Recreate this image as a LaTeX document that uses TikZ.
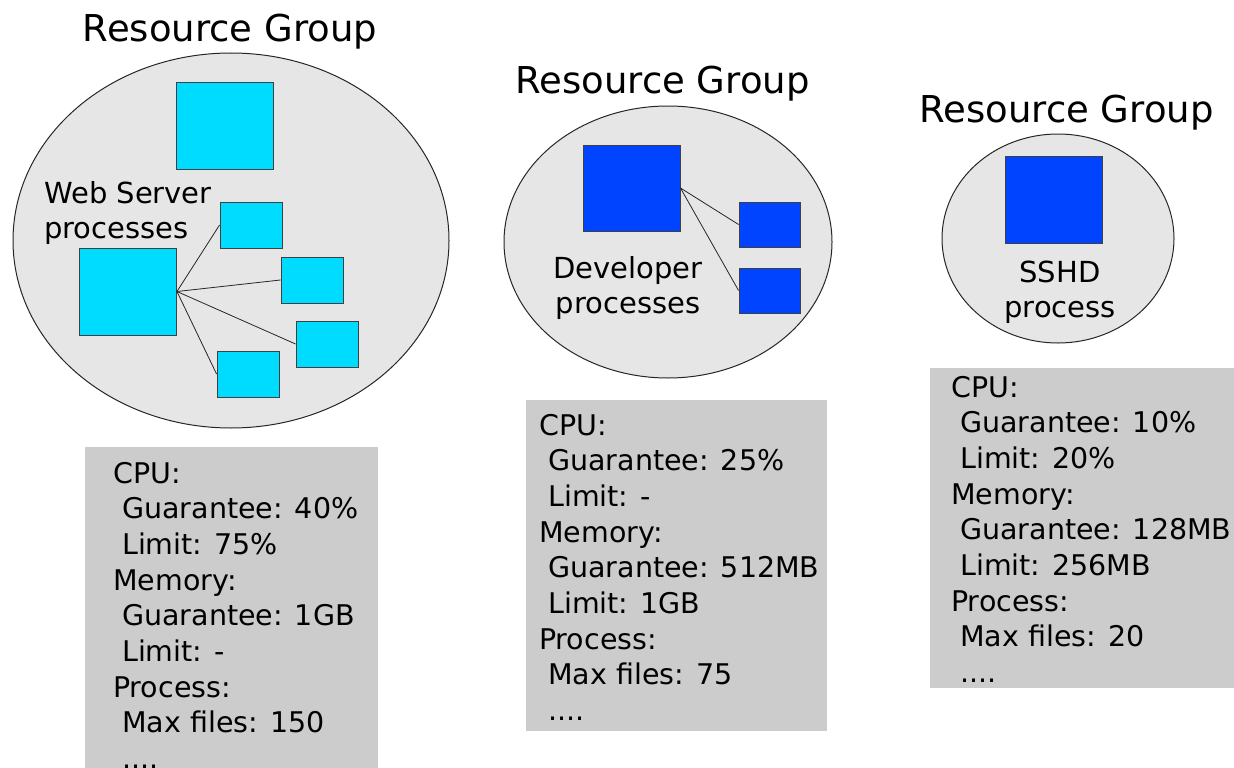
\documentclass[tikz,border=0pt]{standalone}
\usepackage{fontspec}
\setmainfont{DejaVu Sans}
\definecolor{grpfill}{HTML}{E6E6E6}
\definecolor{panelfill}{HTML}{CCCCCC}
\definecolor{webcyan}{HTML}{00DCFF}
\definecolor{devblue}{HTML}{0044FF}
\begin{document}
\begin{tikzpicture}[x=1pt,y=-1pt,
  group/.style={draw=black!85,line width=1pt,fill=grpfill},
  title/.style={anchor=base,inner sep=0pt,font=\fontsize{37}{44}\selectfont},
  label/.style={inner sep=0pt,font=\fontsize{29}{35}\selectfont},
  panel/.style={rectangle,fill=panelfill,inner sep=0pt,anchor=north west},
  ptext/.style={anchor=base west,inner sep=0pt,align=left,font=\fontsize{28.5}{35.7}\selectfont},
  bigbox/.style={rectangle,draw=black!75,line width=0.9pt,inner sep=0pt,minimum width=97pt,minimum height=87pt},
  smallbox/.style={rectangle,draw=black!75,line width=0.9pt,inner sep=0pt,minimum width=62pt,minimum height=46pt},
  link/.style={draw=black!85,line width=0.8pt}
]
\useasboundingbox (0,0) rectangle (1234,768);
\clip (0,0) rectangle (1234,768);

% titles
\node[title] (t1) at (230,42) {Resource Group};
\node[title] (t2) at (662.5,93) {Resource Group};
\node[title] (t3) at (1066.5,122) {Resource Group};

% groups
\draw[group] (231,240.5) ellipse [x radius=218pt, y radius=187.5pt];
\draw[group] (668,242) ellipse [x radius=164pt, y radius=136pt];
\draw[group] (1058,238.5) ellipse [x radius=116pt, y radius=104.5pt];

% web server group
\node[bigbox,fill=webcyan] (w0) at (225,125.5) {};
\node[bigbox,fill=webcyan] (wbig) at (128,291.5) {};
\node[smallbox,fill=webcyan] (w1) at (251,225) {};
\node[smallbox,fill=webcyan] (w2) at (312,280) {};
\node[smallbox,fill=webcyan] (w3) at (327,344) {};
\node[smallbox,fill=webcyan] (w4) at (248,374) {};
\draw[link] (wbig.east) -- (w1.west);
\draw[link] (wbig.east) -- (w2.west);
\draw[link] (wbig.east) -- (w3.west);
\draw[link] (wbig.east) -- (w4.west);
% base anchor of a multi-line node = baseline of its last line
\node[label,anchor=base west,align=left] (wlab) at (44,238) {Web Server\\processes};

% developer group
\node[bigbox,fill=devblue,minimum width=97pt,minimum height=86pt] (dbig) at (631.5,188) {};
\node[smallbox,fill=devblue,minimum width=61pt,minimum height=45pt] (d1) at (769.5,224.5) {};
\node[smallbox,fill=devblue,minimum width=61pt,minimum height=45pt] (d2) at (769.5,290.5) {};
\draw[link] (dbig.east) -- (d1.west);
\draw[link] (dbig.east) -- (d2.west);
\node[label,anchor=base,align=center] (dlab) at (628,313) {Developer\\processes};

% sshd group
\node[bigbox,fill=devblue] (s0) at (1054,199.5) {};
\node[label,anchor=base,align=center] (slab) at (1060,317) {SSHD\\process};

% panels
\node[panel,minimum width=293pt,minimum height=330pt] (p1) at (85,447) {};
\node[panel,minimum width=301pt,minimum height=331pt] (p2) at (526,400) {};
\node[panel,minimum width=310pt,minimum height=320pt] (p3) at (930,368) {};

\node[ptext] (p1t) at (113,768.6) {CPU:\\\hspace*{9pt}Guarantee: 40\%\\\hspace*{9pt}Limit: 75\%\\Memory:\\\hspace*{9pt}Guarantee: 1GB\\\hspace*{9pt}Limit: -\\Process:\\\hspace*{9pt}Max files: 150\\\hspace*{9pt}....};
\node[ptext] (p2t) at (539,720.6) {CPU:\\\hspace*{9pt}Guarantee: 25\%\\\hspace*{9pt}Limit: -\\Memory:\\\hspace*{9pt}Guarantee: 512MB\\\hspace*{9pt}Limit: 1GB\\Process:\\\hspace*{9pt}Max files: 75\\\hspace*{9pt}....};
\node[ptext] (p3t) at (951,682.6) {CPU:\\\hspace*{9pt}Guarantee: 10\%\\\hspace*{9pt}Limit: 20\%\\Memory:\\\hspace*{9pt}Guarantee: 128MB\\\hspace*{9pt}Limit: 256MB\\Process:\\\hspace*{9pt}Max files: 20\\\hspace*{9pt}....};
\end{tikzpicture}
\end{document}
